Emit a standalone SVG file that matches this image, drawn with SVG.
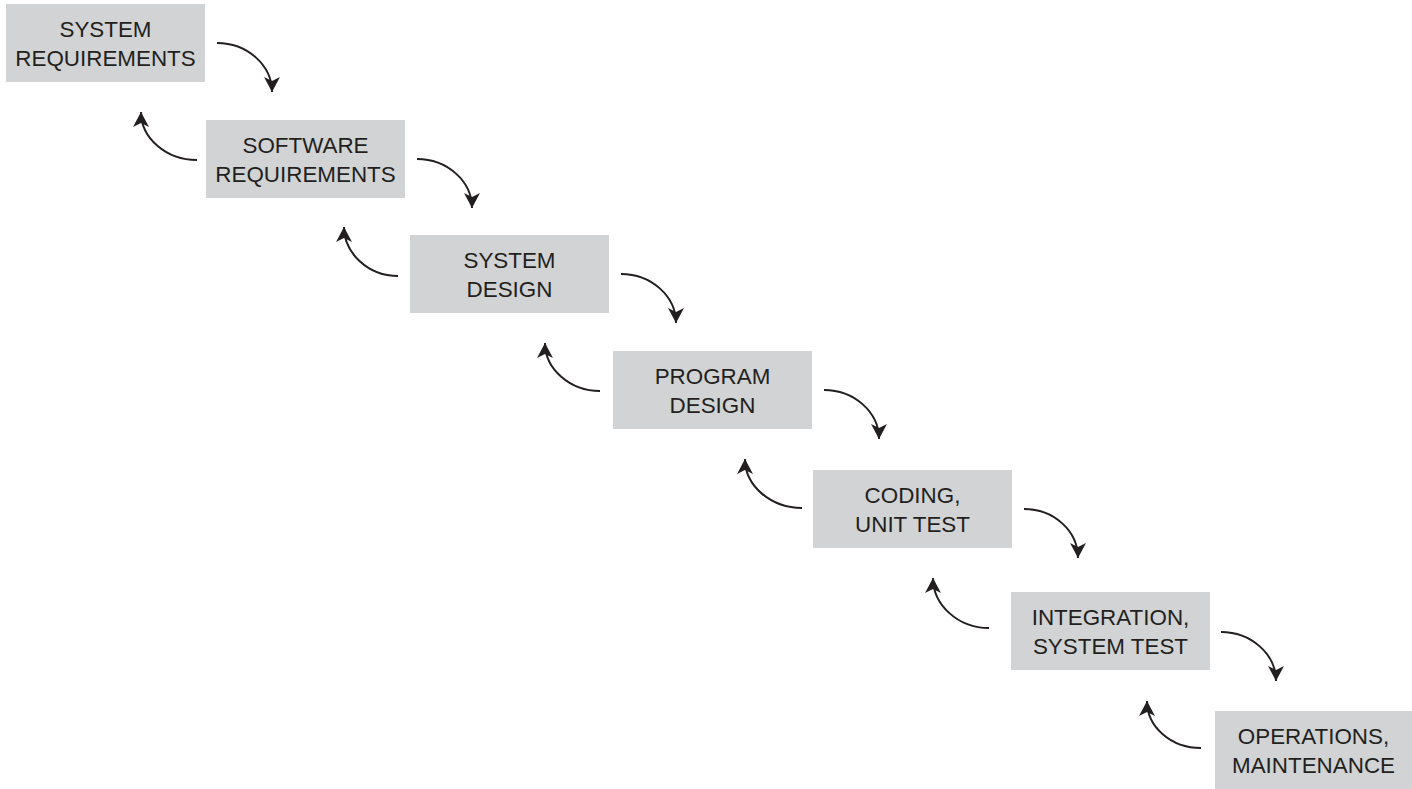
<svg xmlns="http://www.w3.org/2000/svg" width="1412" height="789" viewBox="0 0 1412 789">
<defs>
<style>
.box{fill:#d1d3d4;}
.lbl{font-family:"Liberation Sans",Arial,sans-serif;font-size:22.4px;fill:#231f20;text-anchor:middle;}
.arr{fill:none;stroke:#231f20;stroke-width:2;marker-end:url(#ah);}
</style>
<marker id="ah" markerUnits="userSpaceOnUse" markerWidth="22" markerHeight="22" viewBox="-17 -11 22 22" refX="0" refY="0" orient="auto">
<path d="M0,0 L-15,-8 L-11,0 L-15,8 Z" fill="#231f20"/>
</marker>
</defs>
<rect width="1412" height="789" fill="#ffffff"/>
<g id="n1"><rect class="box" x="6" y="4" width="199" height="78"/><text class="lbl" x="105.5" y="37">SYSTEM</text><text class="lbl" x="105.5" y="66">REQUIREMENTS</text></g>
<g id="n2"><rect class="box" x="206" y="120" width="199" height="78"/><text class="lbl" x="305.5" y="153">SOFTWARE</text><text class="lbl" x="305.5" y="182">REQUIREMENTS</text></g>
<g id="n3"><rect class="box" x="410" y="235" width="199" height="78"/><text class="lbl" x="509.5" y="268">SYSTEM</text><text class="lbl" x="509.5" y="297">DESIGN</text></g>
<g id="n4"><rect class="box" x="613" y="351" width="199" height="78"/><text class="lbl" x="712.5" y="384">PROGRAM</text><text class="lbl" x="712.5" y="413">DESIGN</text></g>
<g id="n5"><rect class="box" x="813" y="470" width="199" height="78"/><text class="lbl" x="912.5" y="503">CODING,</text><text class="lbl" x="912.5" y="532">UNIT TEST</text></g>
<g id="n6"><rect class="box" x="1011" y="592" width="199" height="78"/><text class="lbl" x="1110.5" y="625">INTEGRATION,</text><text class="lbl" x="1110.5" y="654">SYSTEM TEST</text></g>
<g id="n7"><rect class="box" x="1215" y="711" width="197" height="78"/><text class="lbl" x="1313.5" y="744">OPERATIONS,</text><text class="lbl" x="1313.5" y="773">MAINTENANCE</text></g>
<g id="connectors">
<path class="arr" d="M217,43 C247,43 272,65 272,92"/>
<path class="arr" d="M417,159 C447,159 472,181 472,208"/>
<path class="arr" d="M621,274 C651,274 676,296 676,323"/>
<path class="arr" d="M824,390 C854,390 879,412 879,439"/>
<path class="arr" d="M1024,509 C1054,509 1078,531 1078,558"/>
<path class="arr" d="M1221,632 C1251,632 1276,654 1276,681"/>
<path class="arr" d="M197,160 C166,160 141,138 141,112"/>
<path class="arr" d="M398,276 C368,276 344,253 344,227"/>
<path class="arr" d="M600,391 C570,391 545,369 545,343"/>
<path class="arr" d="M802,508 C771,508 745,486 745,459"/>
<path class="arr" d="M989,628 C958,628 933,605 933,578"/>
<path class="arr" d="M1201,748 C1171,748 1147,727 1147,701"/>
</g>
</svg>
